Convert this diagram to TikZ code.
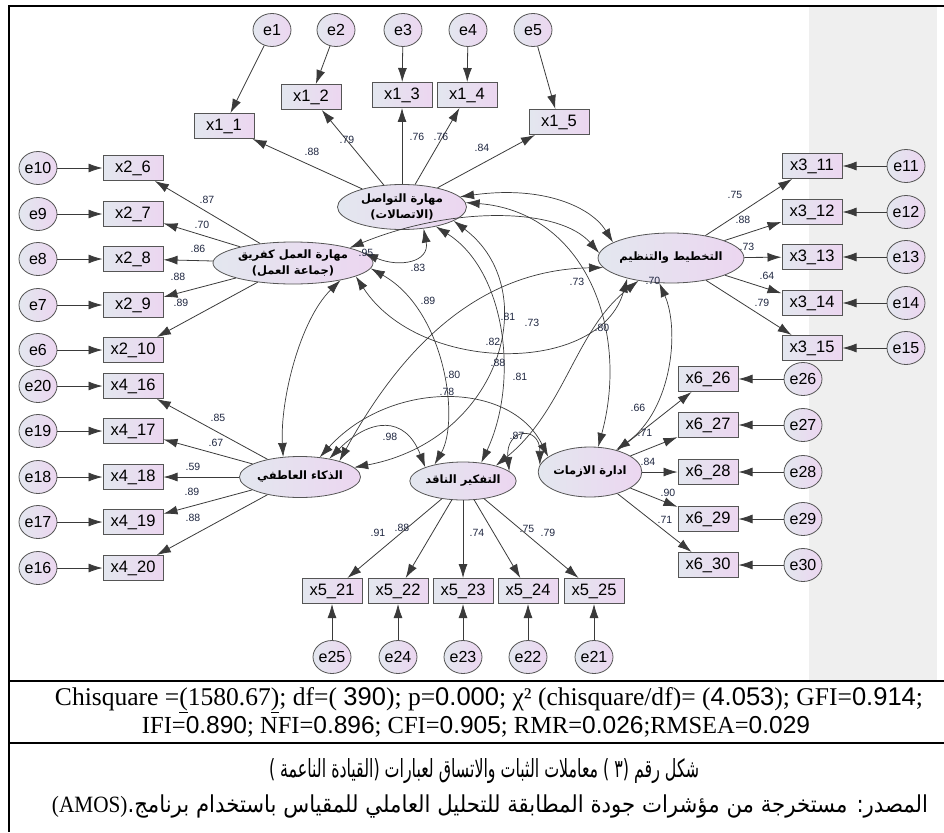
\documentclass[tikz,border=0pt]{standalone}
\usepackage{fontspec}
\setmainfont{Liberation Sans}
\newfontfamily\serif{Liberation Serif}
\newfontfamily\sansdig{Liberation Sans}
\newfontfamily\arabicfont[Script=Arabic]{DejaVu Sans}
\TeXXeTstate=1
\usetikzlibrary{shapes.geometric,arrows.meta}

\definecolor{fillL}{HTML}{E3E7EF}
\definecolor{fillR}{HTML}{ECD6F0}
\definecolor{edge}{HTML}{555555}
\definecolor{wire}{HTML}{3A3A3A}
\definecolor{lbl}{HTML}{1E2640}
\definecolor{pane}{HTML}{EFEFEF}

\newcommand\dg[1]{{\sansdig #1}}

\tikzset{
  obs/.style={rectangle, draw=edge, line width=1pt, left color=fillL, right color=fillR,
    minimum width=60pt, minimum height=25pt, inner sep=0pt, font=\fontsize{16.5}{16.5}\selectfont},
  err/.style={ellipse, draw=edge, line width=0.8pt, left color=fillL, right color=fillR,
    minimum width=38pt, minimum height=33pt, inner sep=0pt, font=\fontsize{16}{16}\selectfont},
  lat/.style={ellipse, draw=edge, line width=0.8pt, left color=fillL, right color=fillR,
    inner sep=0pt, align=center, font=\arabicfont\bfseries\fontsize{11.5}{16}\selectfont},
  coef/.style={font=\fontsize{10.5}{10.5}\selectfont, text=lbl, inner sep=0pt},
  ld/.style={draw=wire, line width=0.8pt, -{Latex[length=14pt,width=9pt]}},
  cov/.style={draw=wire, line width=0.7pt, {Latex[length=14pt,width=9pt]}-{Latex[length=14pt,width=9pt]}},
}

\begin{document}
\begin{tikzpicture}[x=1pt,y=-1pt]
\useasboundingbox (0,0) rectangle (944,832);

% grey side pane and frame
\fill[pane] (809,7) rectangle (937,680);
\draw[line width=2.5pt] (944,6) -- (9,6) -- (9,832);
\draw[line width=2.5pt] (9,681) -- (944,681);
\draw[line width=2.5pt] (9,743) -- (944,743);

% latent factors
\node[lat, minimum width=129pt, minimum height=45pt] (C) at (402,207)
  {\beginR مهارة التواصل\endR\\\beginR(الاتصالات)\endR};
\node[lat, minimum width=160pt, minimum height=42pt] (T) at (293,263)
  {\beginR مهارة العمل كفريق\endR\\\beginR(جماعة العمل)\endR};
\node[lat, minimum width=118pt, minimum height=50pt] (P) at (671,258)
  {\beginR التخطيط والتنظيم\endR};
\node[lat, minimum width=118pt, minimum height=41pt] (E) at (300,477)
  {\beginR الذكاء العاطفي\endR};
\node[lat, minimum width=103pt, minimum height=38pt] (K) at (463,481)
  {\beginR التفكير الناقد\endR};
\node[lat, minimum width=97pt, minimum height=50pt] (M) at (590,472)
  {\beginR ادارة الازمات\endR};

% communication block (top)
\foreach \n/\bx/\by/\ex in {1/224/126/272, 2/311/97/336, 3/402/95/403, 4/467/95/468, 5/559/122/533}{
  \node[obs] (x1\n) at (\bx,\by) {x1\_\n};
  \node[err] (e\n) at (\ex,30) {e\n};
  \draw[ld] (e\n) -- (x1\n);
  \draw[ld] (C) -- (x1\n);
}
\node[coef] (c1) at (312,152) {.88};
\node[coef] (c2) at (347,140) {.79};
\node[coef] (c3) at (417,137) {.76};
\node[coef] (c4) at (441,137) {.76};
\node[coef] (c5) at (482,148) {.84};

% teamwork block (left, upper)
\foreach \n/\e/\y in {6/10/168, 7/9/214, 8/8/259, 9/7/305, 10/6/350}{
  \node[obs] (x2\n) at (133,\y) {x2\_\n};
  \node[err] (e\e) at (38,\y) {e\e};
  \draw[ld] (e\e) -- (x2\n);
  \draw[ld] (T) -- (x2\n);
}
\node[coef] (c6) at (207,200) {.87};
\node[coef] (c7) at (202,225) {.70};
\node[coef] (c8) at (198,249) {.86};
\node[coef] (c9) at (178,277) {.88};
\node[coef] (c10) at (181,303) {.89};

% planning block (right, upper)
\foreach \n/\y in {11/166, 12/212, 13/257, 14/303, 15/348}{
  \node[obs] (x3\n) at (812,\y) {x3\_\n};
  \node[err] (e\n) at (906,\y) {e\n};
  \draw[ld] (e\n) -- (x3\n);
  \draw[ld] (P) -- (x3\n);
}
\node[coef] (c11) at (735,195) {.75};
\node[coef] (c12) at (743,220) {.88};
\node[coef] (c13) at (747,247) {.73};
\node[coef] (c14) at (767,276) {.64};
\node[coef] (c15) at (762,303) {.79};

% emotional intelligence block (left, lower)
\foreach \n/\e/\y in {16/20/386, 17/19/431, 18/18/477, 19/17/522, 20/16/568}{
  \node[obs] (x4\n) at (133,\y) {x4\_\n};
  \node[err] (e\e) at (38,\y) {e\e};
  \draw[ld] (e\e) -- (x4\n);
  \draw[ld] (E) -- (x4\n);
}
\node[coef] (c16) at (218,418) {.85};
\node[coef] (c17) at (216,443) {.67};
\node[coef] (c18) at (193,467) {.59};
\node[coef] (c19) at (192,492) {.89};
\node[coef] (c20) at (193,518) {.88};

% critical thinking block (bottom)
\foreach \n/\e/\x in {21/25/332, 22/24/398, 23/23/463, 24/22/528, 25/21/594}{
  \node[obs] (x5\n) at (\x,591) {x5\_\n};
  \node[err] (e\e) at (\x,657) {e\e};
  \draw[ld] (e\e) -- (x5\n);
  \draw[ld] (K) -- (x5\n);
}
\node[coef] (c21) at (378,533) {.91};
\node[coef] (c22) at (402,528) {.88};
\node[coef] (c23) at (477,533) {.74};
\node[coef] (c24) at (527,529) {.75};
\node[coef] (c25) at (548,533) {.79};

% crisis management block (right, lower)
\foreach \n/\y in {26/379, 27/425, 28/472, 29/519, 30/565}{
  \node[obs] (x6\n) at (708,\y) {x6\_\n};
  \node[err] (e\n) at (803,\y) {e\n};
  \draw[ld] (e\n) -- (x6\n);
  \draw[ld] (M) -- (x6\n);
}
\node[coef] (c26) at (638,408) {.66};
\node[coef] (c27) at (645,433) {.71};
\node[coef] (c28) at (648,462) {.84};
\node[coef] (c29) at (668,493) {.90};
\node[coef] (c30) at (665,520) {.71};

% covariances between the factors
\draw[cov] (C.-45) .. controls (430,262) and (400,268) .. (T.8);
\draw[cov] (C.10) .. controls (545,185) and (592,208) .. (P.165);
\draw[cov] (T.15) .. controls (455,205) and (560,208) .. (P.176);
\draw[cov] (T.-12) .. controls (420,375) and (600,375) .. (P.-155);
\draw[cov] (P.-115) .. controls (680,330) and (672,410) .. (M.40);
\draw[cov] (T.-20) .. controls (300,320) and (280,400) .. (E.130);
\draw[cov] (C.4) .. controls (585,212) and (630,330) .. (M.72);
\draw[cov] (C.-30) .. controls (505,270) and (520,380) .. (K.45);
\draw[cov] (C.-15) .. controls (545,290) and (500,440) .. (E.10);
\draw[cov] (T.-4) .. controls (445,310) and (460,420) .. (K.150);
\draw[cov] (P.-172) .. controls (470,270) and (395,360) .. (E.22);
\draw[cov] (P.-145) .. controls (575,330) and (565,410) .. (K.25);
\draw[cov] (E.32) .. controls (370,418) and (405,415) .. (K.160);
\draw[cov] (E.45) .. controls (390,380) and (510,380) .. (M.160);
\draw[cov] (K.12) .. controls (505,428) and (540,425) .. (M.172);

\node[coef] (r1) at (366,253) {.95};
\node[coef] (r2) at (418,268) {.83};
\node[coef] (r3) at (428,301) {.89};
\node[coef] (r4) at (577,282) {.73};
\node[coef] (r5) at (508,317) {.81};
\node[coef] (r6) at (532,323) {.73};
\node[coef] (r7) at (602,328) {.80};
\node[coef] (r8) at (493,342) {.82};
\node[coef] (r9) at (653,281) {.70};
\node[coef] (r10) at (498,363) {.88};
\node[coef] (r11) at (453,375) {.80};
\node[coef] (r12) at (520,377) {.81};
\node[coef] (r13) at (447,392) {.78};
\node[coef] (r14) at (390,437) {.98};
\node[coef] (r15) at (517,436) {.87};

% fit indices and caption
\node[font=\serif\fontsize{20}{20}\selectfont, inner sep=0pt] (fit1) at (489,700)
  {\resizebox{868pt}{!}{Chisquare =\underline{(}1580.67\underline{)}; df=( \dg{390}); p=\dg{0.000}; χ² (chisquare/df)= (\dg{4.053}); GFI=\dg{0.914};}};
\node[font=\serif\fontsize{20}{20}\selectfont, inner sep=0pt] (fit2) at (476,727)
  {\resizebox{668pt}{!}{IFI=\dg{0.890}; NFI=\dg{0.896}; CFI=\dg{0.905}; RMR=\dg{0.026};RMSEA=\dg{0.029}}};
\node[font=\arabicfont\fontsize{21}{21}\selectfont, inner sep=0pt] (cap) at (484,771)
  {\resizebox{430pt}{19pt}{\beginR شكل رقم (٣ ) معاملات الثبات والاتساق لعبارات (القيادة الناعمة )\endR}};
\node[font=\arabicfont\fontsize{17}{17}\selectfont, inner sep=0pt] (src) at (490,806)
  {\resizebox{876pt}{!}{\scalebox{1}[1.1]{\beginR المصدر: مستخرجة من مؤشرات جودة المطابقة للتحليل العاملي للمقياس باستخدام برنامج.\beginL{\serif (AMOS)}\endL\endR}}};
\end{tikzpicture}
\end{document}
